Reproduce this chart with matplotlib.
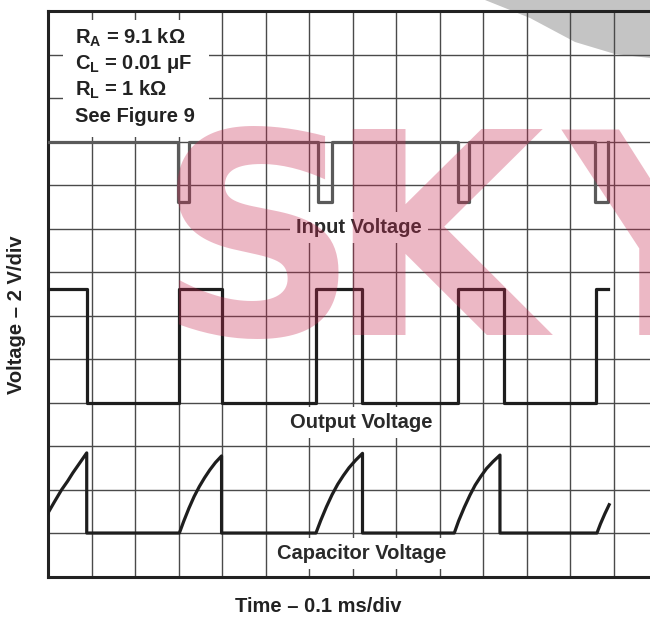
import matplotlib
matplotlib.use('Agg')
import matplotlib.pyplot as plt
from matplotlib.patches import Rectangle, Polygon

plt.rcParams['font.family'] = ['Liberation Sans', 'DejaVu Sans']
plt.rcParams['mathtext.fontset'] = 'custom'
plt.rcParams['mathtext.rm'] = 'Liberation Sans:bold'
plt.rcParams['mathtext.it'] = 'Liberation Sans:bold'
plt.rcParams['mathtext.bf'] = 'Liberation Sans:bold'

# grid is in divisions: 14 across (last one runs off the picture), 13 down
n_xdiv = 14
n_ydiv = 13

# input voltage: level from each edge time on (divisions)
in_t = [0.00, 2.99, 3.24, 6.20, 6.52, 9.43, 9.68, 12.57, 12.87]
in_v = [10.0, 8.62, 10.0, 8.62, 10.0, 8.62, 10.0, 8.62, 10.0]

# output voltage
out_t = [0.00, 0.90, 3.01, 4.00, 6.16, 7.22, 9.43, 10.48, 12.60, 12.87]
out_v = [6.62, 4.00, 6.62, 4.00, 6.62, 4.00, 6.62, 4.00, 6.62, 6.62]

# capacitor voltage, points
cap_x = [0.00, 0.15, 0.31, 0.45, 0.57, 0.73, 0.89, 0.89,
         3.02, 3.12, 3.24, 3.36, 3.48, 3.60, 3.72, 3.85, 3.99, 3.99,
         6.16, 6.27, 6.40, 6.53, 6.66, 6.79, 6.92, 7.07, 7.23, 7.23,
         9.34, 9.44, 9.57, 9.70, 9.82, 9.95, 10.08, 10.23, 10.39, 10.39,
         12.62, 12.70, 12.80, 12.90]
cap_y = [1.47, 1.73, 2.00, 2.20, 2.39, 2.62, 2.85, 1.01,
         1.01, 1.28, 1.58, 1.85, 2.08, 2.28, 2.46, 2.63, 2.78, 1.01,
         1.01, 1.30, 1.61, 1.89, 2.13, 2.33, 2.51, 2.68, 2.84, 1.01,
         1.01, 1.29, 1.60, 1.88, 2.11, 2.31, 2.49, 2.65, 2.80, 1.01,
         1.01, 1.22, 1.45, 1.66]

notes = [r'R$_{A}$ = 9.1 kΩ', r'C$_{L}$ = 0.01 μF', r'R$_{L}$ = 1 kΩ', 'See Figure 9']
labels = ['Input Voltage', 'Output Voltage', 'Capacitor Voltage']
label_pos = [(7.15, 8.02), (7.2, 3.54), (7.2, 0.55)]

fig = plt.figure(figsize=(6.5, 6.19), dpi=100)

# grey part of the site logo, behind the grid
fig.patches.append(Polygon(
    [(485 / 650, 1.0), (530 / 650, 1 - 18 / 619), (575 / 650, 1 - 42 / 619),
     (615 / 650, 1 - 54 / 619), (650 / 650, 1 - 58 / 619), (1.0, 1.0)],
    closed=True, transform=fig.transFigure, facecolor='#c4c4c4',
    edgecolor='none', zorder=-1))

ax = fig.add_axes([48 / 650, 42 / 619, 609 / 650, 566 / 619])
ax.patch.set_alpha(0)
ax.set_xlim(0, n_xdiv)
ax.set_ylim(0, n_ydiv)
ax.set_xticks(range(1, n_xdiv))
ax.set_yticks(range(1, n_ydiv))
ax.tick_params(length=0, labelbottom=False, labelleft=False)
ax.grid(True, color='#4a4a4a', lw=1.0, zorder=0)
ax.set_axisbelow(True)
for s in ['left', 'top', 'bottom']:
    ax.spines[s].set_linewidth(2.2)
    ax.spines[s].set_color('#222222')
ax.spines['right'].set_visible(False)

# white panel behind the notes
ax.add_patch(Rectangle((0.35, 10.1), 3.35, 2.7, facecolor='white',
                       edgecolor='none', zorder=1))
for i, s in enumerate(notes):
    ax.text(0.62, 12.38 - i * 0.6, s, fontsize=14.5, fontweight='bold',
            color='#222222', va='center', ha='left', zorder=2)

ax.step(in_t, in_v, where='post', color='#5a5a5a', lw=2.3, zorder=3)
ax.step(out_t, out_v, where='post', color='#1e1e1e', lw=2.3, zorder=3)
ax.plot(cap_x, cap_y, color='#1e1e1e', lw=2.3, zorder=3,
        solid_joinstyle='round')

for s, (x, y) in zip(labels, label_pos):
    ax.text(x, y, s, fontsize=14.5, fontweight='bold', color='#2a2a2a',
            ha='center', va='center', zorder=2,
            bbox=dict(boxstyle='square,pad=0.3', facecolor='white',
                      edgecolor='none'))

fig.text(318 / 650, 1 - 607 / 619, 'Time – 0.1 ms/div', fontsize=14.5,
         fontweight='bold', color='#222222', ha='center', va='center')
fig.text(17 / 650, 1 - 315 / 619, 'Voltage – 2 V/div', fontsize=14.5,
         fontweight='bold', color='#222222', ha='center', va='center',
         rotation=90)

# site watermark laid over the chart
for ch, xc in zip('SKY', [258, 435, 665]):
    fig.text(xc / 650, 1 - 335 / 619, ch, fontsize=202, fontweight='bold',
             family='DejaVu Sans', color='#c82850', alpha=0.33,
             ha='center', va='baseline', zorder=10)

fig.savefig('out.png', dpi=100)
